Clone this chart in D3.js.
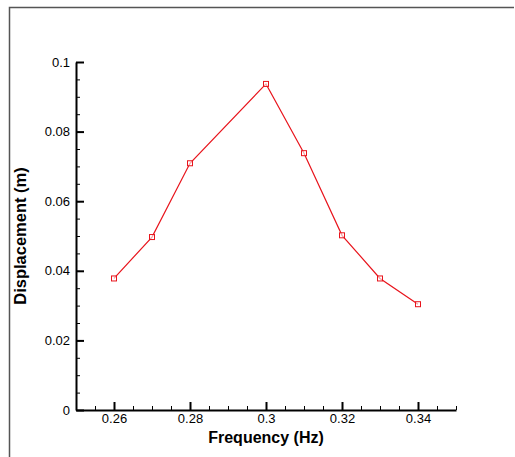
<!DOCTYPE html>
<html>
<head>
<meta charset="utf-8">
<script src="https://cdn.jsdelivr.net/npm/d3@7"></script>
<style>
  body { margin: 0; background: #fff; }
  svg { display: block; font-family: "Liberation Sans", Arial, sans-serif; }
</style>
</head>
<body>
<svg id="chart" width="515" height="457"></svg>
<script>
// data
const freq = [0.26, 0.27, 0.28, 0.30, 0.31, 0.32, 0.33, 0.34];
const disp = [0.0378, 0.0497, 0.0709, 0.0937, 0.0738, 0.0502, 0.0378, 0.0304];
const xTicks = [0.26, 0.28, 0.30, 0.32, 0.34];
const xTickLabels = ["0.26", "0.28", "0.3", "0.32", "0.34"];
const yTicks = [0, 0.02, 0.04, 0.06, 0.08, 0.1];
const yTickLabels = ["0", "0.02", "0.04", "0.06", "0.08", "0.1"];

const margin = { top: 62, left: 76, right: 59, bottom: 47 };
const width = 515 - margin.left - margin.right,
      height = 457 - margin.top - margin.bottom;

const svg = d3.select("#chart");

// outer frame (only top and left edges show)
svg.append("path")
    .attr("d", "M9.5,457 V7.5 H514")
    .attr("fill", "none")
    .attr("stroke", "#555")
    .attr("stroke-width", 1.5);

const g = svg.append("g")
    .attr("transform", `translate(${margin.left},${margin.top})`);

const x = d3.scaleLinear().domain([0.25, 0.35]).range([0, width]);
const y = d3.scaleLinear().domain([0, 0.1]).range([height, 0]);

// minor ticks, every 0.005
const xMinor = d3.range(0, 21).map(i => 0.25 + i * 0.005);
const yMinor = d3.range(0, 21).map(i => i * 0.005);

g.append("g")
    .attr("transform", `translate(0,${height})`)
    .call(d3.axisBottom(x).tickValues(xMinor).tickSize(-4).tickFormat(""))
    .call(a => a.select(".domain").remove())
    .selectAll("line").attr("stroke", "#000");

g.append("g")
    .call(d3.axisLeft(y).tickValues(yMinor).tickSize(-4).tickFormat(""))
    .call(a => a.select(".domain").remove())
    .selectAll("line").attr("stroke", "#000");

// major x axis
const xAxis = g.append("g")
    .attr("transform", `translate(0,${height})`)
    .call(d3.axisBottom(x).tickValues(xTicks).tickSizeInner(-8).tickSizeOuter(0)
        .tickPadding(4).tickFormat((d, i) => xTickLabels[i]));
xAxis.select(".domain").attr("stroke-width", 2);
xAxis.selectAll("line").attr("stroke-width", 2);
xAxis.selectAll("text").attr("font-size", 13).attr("font-family", "Liberation Sans, Arial, sans-serif").attr("fill", "#000");

// major y axis
const yAxis = g.append("g")
    .call(d3.axisLeft(y).tickValues(yTicks).tickSizeInner(-8).tickSizeOuter(0)
        .tickPadding(6).tickFormat((d, i) => yTickLabels[i]));
yAxis.select(".domain").attr("stroke-width", 2);
yAxis.selectAll("line").attr("stroke-width", 2);
yAxis.selectAll("text").attr("font-size", 13).attr("font-family", "Liberation Sans, Arial, sans-serif").attr("fill", "#000");

// axis titles
svg.append("text")
    .attr("x", margin.left + x(0.30))
    .attr("y", 443)
    .attr("text-anchor", "middle")
    .attr("font-size", 16)
    .attr("font-weight", "bold")
    .text("Frequency (Hz)");

svg.append("text")
    .attr("transform", `translate(26,${margin.top + y(0.05)}) rotate(-90)`)
    .attr("text-anchor", "middle")
    .attr("font-size", 16.5)
    .attr("font-weight", "bold")
    .text("Displacement (m)");

// line and markers
const pts = freq.map((f, i) => ({ f: f, d: disp[i] }));

g.append("path")
    .datum(pts)
    .attr("fill", "none")
    .attr("stroke", "#e8141c")
    .attr("stroke-width", 1.2)
    .attr("d", d3.line().x(d => x(d.f)).y(d => y(d.d)));

g.selectAll("rect.mk")
    .data(pts)
    .enter()
    .append("rect")
      .attr("class", "mk")
      .attr("x", d => x(d.f) - 2.5)
      .attr("y", d => y(d.d) - 2.5)
      .attr("width", 5)
      .attr("height", 5)
      .attr("fill", "#fff")
      .attr("fill-opacity", 0.6)
      .attr("stroke", "#e8141c")
      .attr("stroke-width", 1);
</script>
</body>
</html>
